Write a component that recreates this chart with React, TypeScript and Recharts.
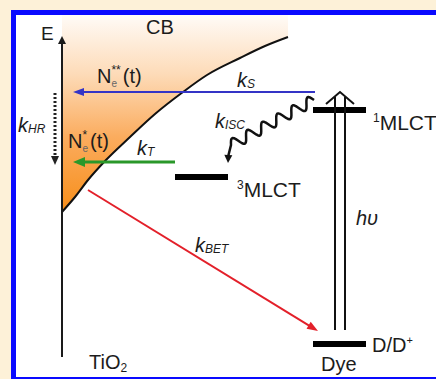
import { ComposedChart, XAxis, YAxis, Area, Line, ReferenceLine, ReferenceDot, ReferenceArea } from "recharts";

const W = 436;
const H = 379;

// TiO2 conduction band edge (x position, energy)
const cbX = [62, 75, 88, 105, 130, 155, 183, 207, 240, 265, 288];
const cbE = [167, 182, 199, 218, 242, 265, 287, 304, 321, 333, 342];

// dye levels
const levelNames = ["1MLCT", "3MLCT", "D/D+"];
const levelFromX = [313, 175, 313];
const levelToX = [366, 228, 366];
const levelE = [269, 202, 35];

// straight transfer arrows
const arrowNames = ["kS", "kT", "kBET", "kHR"];
const arrowFromX = [315, 175, 88, 55];
const arrowFromE = [287, 217, 189, 286];
const arrowToX = [73, 73, 318, 55];
const arrowToE = [287, 217, 48, 214];

// energy axis
const axisX = 62;
const axisE = [22, 343];

// intersystem crossing (wavy) and absorption (hv)
const iscFrom = { x: 314, e: 279 };
const iscTo = { x: 228, e: 216 };
const hvFrom = { x: 340, e: 49 };
const hvTo = { x: 340, e: 287 };

// text labels
const labelKeys = ["E", "CB", "Ne**", "kS", "kHR", "Ne*", "kT", "kISC", "1MLCT", "3MLCT", "hv", "kBET", "D/D+", "Dye", "TiO2"];
const labelX = [41, 146, 97, 237, 18, 68, 137, 215, 373, 237, 356, 195, 372, 321, 89];
const labelE = [339, 345, 296, 292, 247, 231, 224, 251, 249, 182, 154, 127, 27, 8, 10];

const cbData = cbX.map((x, i) => ({ x, e: cbE[i] }));

const arrowStyle: Record<string, { color: string; width: number; dash?: string; head: number; half: number }> = {
  kS: { color: "#3434c6", width: 2, head: 11, half: 4 },
  kT: { color: "#2a982a", width: 3, head: 12, half: 5 },
  kBET: { color: "#e3202a", width: 2, head: 11, half: 4 },
  kHR: { color: "#222", width: 3, dash: "2 2", head: 9, half: 4 },
  axis: { color: "#1a1a1a", width: 2, head: 8, half: 4 },
};

const font = "'Liberation Sans', Arial, sans-serif";
const ink = "#1c1c1c";

function head(x1: number, y1: number, x2: number, y2: number, len: number, half: number, color: string) {
  const dx = x2 - x1;
  const dy = y2 - y1;
  const d = Math.hypot(dx, dy) || 1;
  const ux = dx / d;
  const uy = dy / d;
  const bx = x2 - ux * len;
  const by = y2 - uy * len;
  return (
    <polygon
      points={`${x2},${y2} ${bx - uy * half},${by + ux * half} ${bx + uy * half},${by - ux * half}`}
      fill={color}
    />
  );
}

const arrowShape = (name: string) => (p: any) => {
  const s = arrowStyle[name];
  const { x1, y1, x2, y2 } = p;
  const d = Math.hypot(x2 - x1, y2 - y1) || 1;
  const ex = x2 - ((x2 - x1) / d) * (s.head - 2);
  const ey = y2 - ((y2 - y1) / d) * (s.head - 2);
  return (
    <g>
      <path
        d={`M${x1},${y1} L${ex},${ey}`}
        fill="none"
        stroke={s.color}
        strokeWidth={s.width}
        strokeDasharray={s.dash}
      />
      {head(x1, y1, x2, y2, s.head, s.half, s.color)}
    </g>
  );
};

const wavyShape = (p: any) => {
  const { x1, y1, x2, y2 } = p;
  const wx = x2 + 3;
  const wy = y2 - 18;
  const dx = wx - x1;
  const dy = wy - y1;
  const d = Math.hypot(dx, dy);
  const ux = dx / d;
  const uy = dy / d;
  const waves = 5.5;
  const amp = 5.5;
  let path = `M${x1},${y1}`;
  for (let i = 1; i <= 80; i++) {
    const t = i / 80;
    const s = Math.sin(t * waves * 2 * Math.PI) * amp;
    path += ` L${x1 + dx * t - uy * s},${y1 + dy * t + ux * s}`;
  }
  path += ` Q${x2 + 1},${y2 - 10} ${x2},${y2 - 6}`;
  return (
    <g>
      <path d={path} fill="none" stroke="#111" strokeWidth={2.5} strokeLinejoin="round" />
      {head(x2 + 0.5, y2 - 12, x2, y2, 8, 4, "#111")}
    </g>
  );
};

const photonShape = (p: any) => {
  const { x1, y1, x2, y2 } = p;
  return (
    <g stroke="#111" strokeWidth={2} fill="none">
      <path d={`M${x1 - 5},${y1} L${x2 - 5},${y2 + 5}`} />
      <path d={`M${x1 + 5},${y1} L${x2 + 5},${y2 + 5}`} />
      <polyline points={`${x2 - 14},${y2 + 12} ${x2},${y2} ${x2 + 14},${y2 + 12}`} />
    </g>
  );
};

const T = { fontFamily: font, fill: ink };

function rate(x: number, y: number, sub: string) {
  return (
    <text x={x} y={y} {...T} fontStyle="italic" fontSize={20}>
      k<tspan fontSize={12} dy={1}>{sub}</tspan>
    </text>
  );
}

function density(x: number, y: number, stars: string) {
  const sw = stars.length * 4.7;
  const ew = 5.6;
  return (
    <text x={x} y={y} {...T} fontSize={20}>
      N
      <tspan fontSize={12} dy={-9}>{stars}</tspan>
      <tspan fontSize={10} dx={-sw} dy={13} fill="#666">e</tspan>
      <tspan fontSize={20} dx={Math.max(0, sw - ew) + 2} dy={-4}>(t)</tspan>
    </text>
  );
}

function renderLabel(key: string, x: number, y: number) {
  switch (key) {
    case "E":
      return <text x={x} y={y} fontSize={19} {...T}>E</text>;
    case "CB":
      return <text x={x} y={y} fontSize={20} {...T}>CB</text>;
    case "Ne**":
      return density(x, y, "**");
    case "Ne*":
      return density(x, y, "*");
    case "kS":
      return rate(x, y, "S");
    case "kHR":
      return rate(x, y, "HR");
    case "kT":
      return rate(x, y, "T");
    case "kISC":
      return rate(x, y, "ISC");
    case "kBET":
      return rate(x, y, "BET");
    case "1MLCT":
    case "3MLCT":
      return (
        <text x={x} y={y} {...T} fontSize={21}>
          <tspan fontSize={12} dy={-8}>{key[0]}</tspan>
          <tspan dy={8}>MLCT</tspan>
        </text>
      );
    case "hv":
      return <text x={x} y={y} fontSize={20} fontStyle="italic" {...T}>hυ</text>;
    case "D/D+":
      return (
        <text x={x} y={y} {...T} fontSize={20}>
          D/D<tspan fontSize={11} dy={-8}>+</tspan>
        </text>
      );
    case "Dye":
      return <text x={x} y={y} fontSize={20} {...T}>Dye</text>;
    case "TiO2":
      return (
        <text x={x} y={y} {...T} fontSize={20}>
          TiO<tspan fontSize={12} dy={3}>2</tspan>
        </text>
      );
    default:
      return <g />;
  }
}

export default function App() {
  return (
    <div style={{ width: W, height: H, background: "#fdf1d8", position: "absolute", left: 0, top: 0 }}>
      <style>{"body{margin:0}"}</style>
      <ComposedChart width={W} height={H} data={cbData} margin={{ top: 0, right: 0, bottom: 0, left: 0 }}>
        <defs>
          <linearGradient id="cbFill" x1="0" y1="0" x2="0" y2="1">
            <stop offset="0" stopColor="#fffbf7" />
            <stop offset="0.3" stopColor="#fddbb8" />
            <stop offset="0.62" stopColor="#fbac5e" />
            <stop offset="1" stopColor="#f78e1a" />
          </linearGradient>
        </defs>
        <XAxis type="number" dataKey="x" domain={[0, W]} allowDataOverflow hide />
        <YAxis type="number" domain={[0, H]} allowDataOverflow hide />
        <ReferenceArea
          x1={13.5}
          x2={441}
          y1={-0.5}
          y2={366.5}
          ifOverflow="visible"
          fill="#ffffff"
          fillOpacity={1}
          stroke="#0a0aff"
          strokeWidth={5}
        />
        <Area
          type="monotone"
          dataKey="e"
          baseValue={364}
          fill="url(#cbFill)"
          fillOpacity={1}
          stroke="none"
          dot={false}
          activeDot={false}
          isAnimationActive={false}
        />
        <Line
          type="monotone"
          dataKey="e"
          stroke="#111"
          strokeWidth={2}
          dot={false}
          activeDot={false}
          isAnimationActive={false}
        />
        <ReferenceLine
          segment={[
            { x: axisX, y: axisE[0] },
            { x: axisX, y: axisE[1] },
          ]}
          ifOverflow="visible"
          shape={arrowShape("axis")}
        />
        {levelNames.map((n, i) => (
          <ReferenceLine
            key={"lv" + n}
            segment={[
              { x: levelFromX[i], y: levelE[i] },
              { x: levelToX[i], y: levelE[i] },
            ]}
            stroke="#000"
            strokeWidth={6}
          />
        ))}
        {arrowNames.map((n, i) => (
          <ReferenceLine
            key={"ar" + n}
            segment={[
              { x: arrowFromX[i], y: arrowFromE[i] },
              { x: arrowToX[i], y: arrowToE[i] },
            ]}
            shape={arrowShape(n)}
          />
        ))}
        <ReferenceLine
          segment={[
            { x: iscFrom.x, y: iscFrom.e },
            { x: iscTo.x, y: iscTo.e },
          ]}
          shape={wavyShape}
        />
        <ReferenceLine
          segment={[
            { x: hvFrom.x, y: hvFrom.e },
            { x: hvTo.x, y: hvTo.e },
          ]}
          shape={photonShape}
        />
        {labelKeys.map((k, i) => (
          <ReferenceDot
            key={"lb" + k}
            x={labelX[i]}
            y={labelE[i]}
            r={0}
            shape={(p: any) => renderLabel(k, p.cx, p.cy)}
          />
        ))}
      </ComposedChart>
    </div>
  );
}
